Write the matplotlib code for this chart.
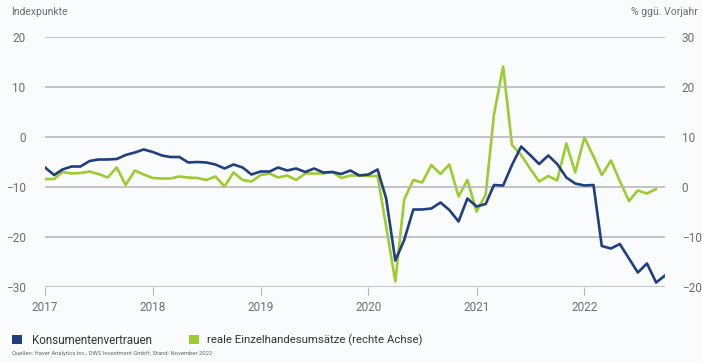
import matplotlib
matplotlib.use("Agg")
import matplotlib.pyplot as plt
from matplotlib.patches import Rectangle
import pandas as pd

plt.rcParams['font.family'] = ['Roboto', 'DejaVu Sans']

# Monthly data, Jan 2017 onwards
konsumentenvertrauen = [
    -6.1, -7.6, -6.5, -5.9, -5.9, -4.8, -4.5, -4.5, -4.4, -3.6, -3.1, -2.5,
    -3.0, -3.7, -4.0, -4.0, -5.1, -5.0, -5.1, -5.5, -6.3, -5.5, -6.1, -7.5,
    -6.9, -6.9, -6.1, -6.7, -6.3, -7.0, -6.3, -7.1, -7.0, -7.4, -6.7, -7.7,
    -7.5, -6.5, -12.3, -24.7, -20.6, -14.5, -14.5, -14.3, -13.1, -14.6, -16.9, -12.3,
    -13.9, -13.4, -9.6, -9.7, -5.6, -1.9, -3.6, -5.4, -3.7, -5.4, -8.1, -9.3,
    -9.7, -9.6, -21.8, -22.3, -21.4, -24.3, -27.1, -25.3, -29.1, -27.7,
]
einzelhandel = [
    1.6, 1.6, 3.0, 2.7, 2.8, 3.1, 2.6, 1.9, 3.9, 0.4, 3.3, 2.5,
    1.8, 1.7, 1.7, 2.1, 1.9, 1.8, 1.4, 2.1, 0.1, 2.9, 1.4, 1.1,
    2.4, 2.7, 1.9, 2.3, 1.4, 2.7, 2.7, 2.7, 3.0, 1.8, 2.3, 2.3,
    2.2, 2.2, -7.9, -18.9, -2.5, 1.4, 0.9, 4.4, 2.6, 4.5, -1.9, 1.4,
    -4.9, -1.5, 14.5, 24.1, 8.4, 6.4, 3.7, 1.1, 2.2, 1.3, 8.7, 2.9,
    9.9, 6.1, 2.4, 5.3, 1.2, -2.8, -0.7, -1.3, -0.4,
]
dates_blue = pd.date_range("2017-01-01", periods=len(konsumentenvertrauen), freq="MS")
dates_green = pd.date_range("2017-01-01", periods=len(einzelhandel), freq="MS")
year_ticks = pd.to_datetime(["2017-01-01", "2018-01-01", "2019-01-01",
                             "2020-01-01", "2021-01-01", "2022-01-01"])
year_labels = ["2017", "2018", "2019", "2020", "2021", "2022"]
left_ticks = [20, 10, 0, -10, -20, -30]
right_ticks = [30, 20, 10, 0, -10, -20]

BLUE = "#1f3f7e"
GREEN = "#9ecb30"
GRID = "#b4b4b8"
TXT = "#6e6e72"
BG = "#fafbfd"

W, H = 702, 362
fig = plt.figure(figsize=(W / 100, H / 100), dpi=100, facecolor=BG)
ax = fig.add_axes([45 / W, (H - 287) / H, 620 / W, 250 / H])
ax.set_facecolor(BG)
ax2 = ax.twinx()

ax.set_ylim(-30, 20)
ax2.set_ylim(-20, 30)
ax.set_yticks(left_ticks)
ax2.set_yticks(right_ticks)
ax.set_xlim(dates_blue[0], dates_blue[-1])

ax.grid(axis="y", color=GRID, linewidth=1.1)
ax.set_axisbelow(True)
for a in (ax, ax2):
    for s in a.spines.values():
        s.set_visible(False)

ax2.plot(dates_green, einzelhandel, color=GREEN, linewidth=1.9, zorder=3)
ax.plot(dates_blue, konsumentenvertrauen, color=BLUE, linewidth=1.9, zorder=4)
ax.set_zorder(ax2.get_zorder() + 1)
ax.patch.set_visible(False)
ax2.patch.set_visible(True)
ax2.patch.set_facecolor(BG)

ax.set_xticks(year_ticks)
ax.set_xticklabels(year_labels)
ax.tick_params(axis="x", length=6, width=0.8, color=GRID, colors=TXT, labelsize=8.5, pad=4)
ax.tick_params(axis="y", length=0, colors=TXT, labelsize=8.5, pad=14)
ax2.tick_params(axis="y", length=0, colors=TXT, labelsize=8.5, pad=12)
for lbl in ax.get_yticklabels():
    lbl.set_horizontalalignment("right")

fig.text(11 / W, 1 - 12 / H, "Indexpunkte", color=TXT, fontsize=7.5, va="center", ha="left")
fig.text(698 / W, 1 - 12 / H, "% ggü. Vorjahr", color=TXT, fontsize=7.5, va="center", ha="right")

# legend
fig.patches.append(Rectangle((12 / W, 1 - 344 / H), 10 / W, 9 / H, transform=fig.transFigure,
                             facecolor=BLUE, edgecolor="none"))
fig.text(32 / W, 1 - 340 / H, "Konsumentenvertrauen", color="#333336", fontsize=8.4, va="center")
fig.patches.append(Rectangle((189 / W, 1 - 344 / H), 10 / W, 9 / H, transform=fig.transFigure,
                             facecolor=GREEN, edgecolor="none"))
fig.text(207 / W, 1 - 340 / H, "reale Einzelhandesumsätze (rechte Achse)", color="#333336",
         fontsize=8.2, va="center")
fig.text(12 / W, 1 - 353 / H, "Quellen: Haver Analytics Inc., DWS Investment GmbH; Stand: November 2022",
         color="#666669", fontsize=4.2, va="center")

fig.savefig("out.png", dpi=100, facecolor=BG)
